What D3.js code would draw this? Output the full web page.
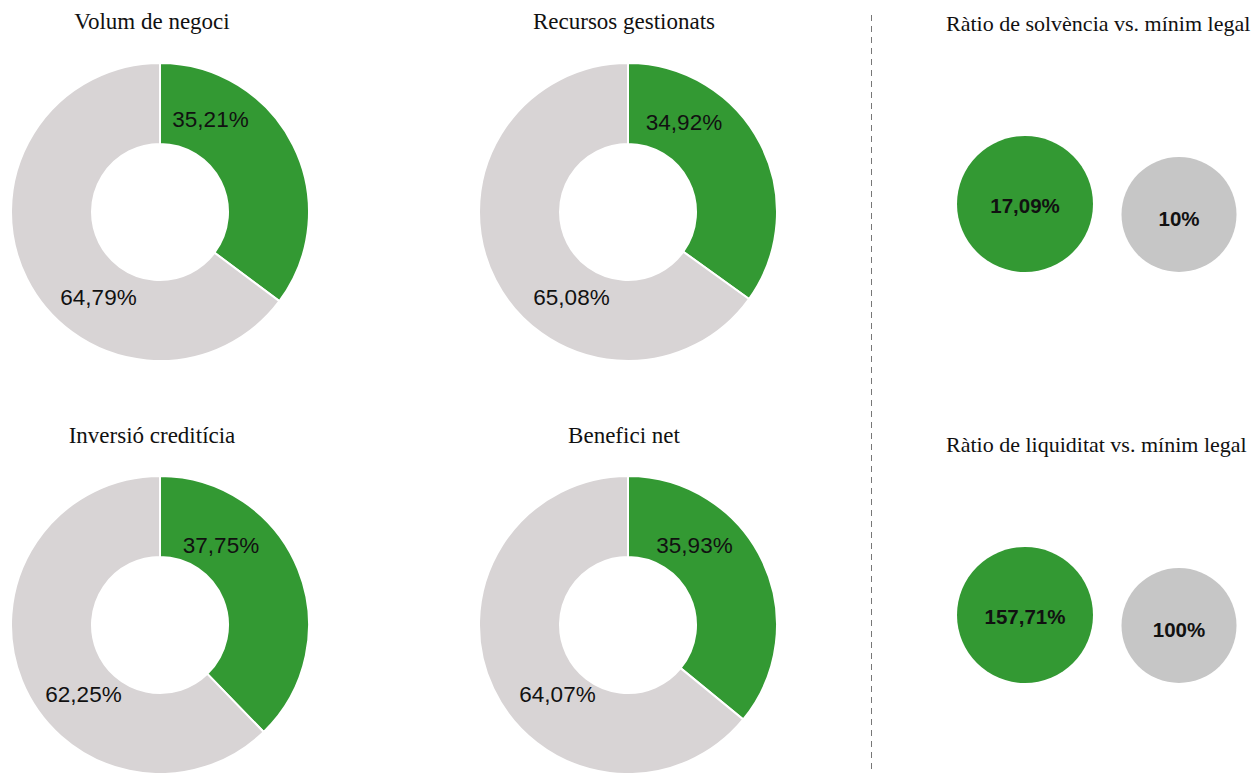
<!DOCTYPE html>
<html>
<head>
<meta charset="utf-8">
<script src="https://cdn.jsdelivr.net/npm/d3@7"></script>
<style>
  html, body { margin: 0; padding: 0; background: #fff; }
  svg { display: block; }
</style>
</head>
<body>
<svg id="chart" width="1260" height="773"></svg>
<script>
// ---- Data ----
const donutTitles = ["Volum de negoci", "Recursos gestionats", "Inversió creditícia", "Benefici net"];
const donutShare  = [35.21, 34.92, 37.75, 35.93];
const donutRest   = [64.79, 65.08, 62.25, 64.07];

const bubbleTitles  = ["Ràtio de solvència vs. mínim legal", "Ràtio de liquiditat vs. mínim legal"];
const bubbleActual  = [17.09, 157.71];
const bubbleMinimum = [10, 100];

// ---- Layout ----
const W = 1260, H = 773;
const GREEN = "#339933", GRAY = "#d8d4d5", BUBBLE_GRAY = "#c6c6c6";
const donutCols = [160, 628], donutRows = [212, 625];
const titleCols = [152, 624], titleRows = [29, 443];
const outerR = 149, innerR = 68;
// label offsets relative to donut centre [green, rest]
const labelOffsets = [
  [[50.5, -85], [-61.5, 93]],
  [[56, -82], [-56.5, 93]],
  [[61, -72], [-76.5, 77]],
  [[66.5, -72], [-70.5, 77]]
];
const bubbleTitleX = 946, bubbleTitleRows = [31, 452];
const bubbleCx = [1025, 1179], bubbleR = [68, 57.5], bubbleBottoms = [272, 683];

const locale = d3.formatLocale({decimal: ",", thousands: ".", grouping: [3], currency: ["", "€"]});
const f2 = locale.format(".2f");
const pct = v => (Number.isInteger(v) ? String(v) : f2(v)) + "%";

const svg = d3.select("#chart");
const serif = "'Liberation Serif', 'DejaVu Serif', serif";
const sans = "'Liberation Sans', Arial, Helvetica, sans-serif";

const pie = d3.pie().sort(null).value(d => d.value);
const arc = d3.arc().innerRadius(innerR).outerRadius(outerR);

donutTitles.forEach((title, i) => {
  const col = i % 2, row = Math.floor(i / 2);
  const cx = donutCols[col], cy = donutRows[row];
  const data = [
    {key: "share", value: donutShare[i], color: GREEN},
    {key: "rest", value: donutRest[i], color: GRAY}
  ];
  svg.append("text")
    .attr("x", titleCols[col]).attr("y", titleRows[row])
    .attr("text-anchor", "middle")
    .attr("font-family", serif).attr("font-size", 23)
    .attr("fill", "#111")
    .text(title);

  const g = svg.append("g").attr("transform", `translate(${cx},${cy})`);
  const arcs = pie(data);
  g.selectAll("path").data(arcs).join("path")
    .attr("d", arc)
    .attr("fill", d => d.data.color)
    .attr("stroke", "#fff")
    .attr("stroke-width", 2);
  g.selectAll("text").data(arcs).join("text")
    .attr("x", (d, j) => labelOffsets[i][j][0])
    .attr("y", (d, j) => labelOffsets[i][j][1])
    .attr("text-anchor", "middle")
    .attr("font-family", sans).attr("font-size", 22.5)
    .attr("fill", "#111")
    .text(d => pct(d.data.value));
});

// dashed divider
svg.append("line")
  .attr("x1", 871.5).attr("x2", 871.5)
  .attr("y1", 15).attr("y2", H)
  .attr("stroke", "#777").attr("stroke-width", 1)
  .attr("stroke-dasharray", "6,5");

bubbleTitles.forEach((title, i) => {
  svg.append("text")
    .attr("x", bubbleTitleX).attr("y", bubbleTitleRows[i])
    .attr("font-family", serif).attr("font-size", 22)
    .attr("fill", "#111")
    .text(title);
  const vals = [
    {value: bubbleActual[i], color: GREEN},
    {value: bubbleMinimum[i], color: BUBBLE_GRAY}
  ];
  const g = svg.append("g");
  g.selectAll("circle").data(vals).join("circle")
    .attr("cx", (d, j) => bubbleCx[j])
    .attr("cy", (d, j) => bubbleBottoms[i] - bubbleR[j])
    .attr("r", (d, j) => bubbleR[j])
    .attr("fill", d => d.color);
  g.selectAll("text").data(vals).join("text")
    .attr("x", (d, j) => bubbleCx[j])
    .attr("y", (d, j) => bubbleBottoms[i] - bubbleR[j] + (j === 0 ? 9 : 11))
    .attr("text-anchor", "middle")
    .attr("font-family", sans).attr("font-size", 20.5).attr("font-weight", "bold")
    .attr("fill", "#111")
    .text(d => pct(d.value));
});
</script>
</body>
</html>
